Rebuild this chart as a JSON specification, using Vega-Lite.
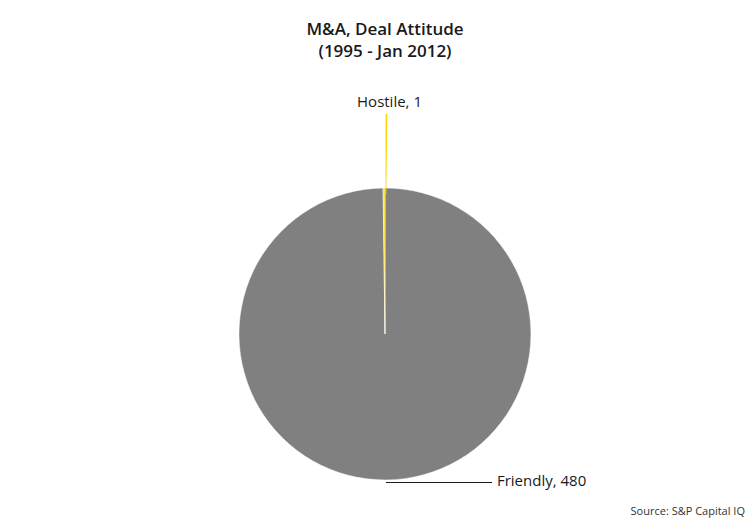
{
  "$schema": "https://vega.github.io/schema/vega-lite/v6.json",
  "autosize": "none",
  "width": 730,
  "height": 388,
  "padding": {"left": 20, "right": 0, "top": 140, "bottom": 3},
  "background": "#ffffff",
  "config": {"view": {"stroke": null}, "font": "Open Sans"},
  "title": {
    "text": ["M&A, Deal Attitude", "(1995 - Jan 2012)"],
    "anchor": "middle",
    "frame": "group",
    "font": "Open Sans",
    "fontSize": 17,
    "fontWeight": 600,
    "lineHeight": 22,
    "color": "#1a1a1a",
    "offset": 34
  },
  "data": {
    "values": [
      {"attitude": "Friendly", "deals": 480, "ord": 1},
      {"attitude": "Hostile", "deals": 1, "ord": 2}
    ]
  },
  "encoding": {
    "theta": {"field": "deals", "type": "quantitative", "stack": true},
    "order": {"field": "ord", "type": "quantitative"}
  },
  "layer": [
    {
      "mark": {"type": "arc", "outerRadius": 146, "stroke": "#ffffff", "strokeWidth": 0.5},
      "encoding": {
        "color": {
          "field": "attitude",
          "type": "nominal",
          "scale": {"domain": ["Friendly", "Hostile"], "range": ["#808080", "#FFD700"]},
          "legend": null
        }
      }
    },
    {
      "transform": [{"filter": "datum.attitude === 'Hostile'"}],
      "mark": {"type": "arc", "innerRadius": 140, "outerRadius": 220, "color": "#FFD700", "padAngle": 0.004}
    },
    {
      "transform": [
        {"filter": "datum.attitude === 'Hostile'"},
        {"calculate": "datum.attitude + ', ' + datum.deals", "as": "label"}
      ],
      "mark": {"type": "text", "radius": 232, "fontSize": 15, "align": "center", "baseline": "middle", "color": "#1a1a1a", "dx": 3},
      "encoding": {"text": {"field": "label"}}
    },
    {
      "transform": [
        {"filter": "datum.attitude === 'Friendly'"},
        {"calculate": "datum.attitude + ', ' + datum.deals", "as": "label"}
      ],
      "mark": {"type": "text", "radius": 147, "fontSize": 15, "align": "left", "baseline": "middle", "color": "#1a1a1a", "dx": 111},
      "encoding": {"text": {"field": "label"}}
    },
    {
      "data": {"values": [{}]},
      "mark": {"type": "rule", "color": "#1a1a1a", "strokeWidth": 1},
      "encoding": {
        "x": {"value": 366},
        "x2": {"value": 472},
        "y": {"value": 342.5},
        "theta": null,
        "order": null
      }
    },
    {
      "data": {"values": [{"src": "Source: S&P Capital IQ"}]},
      "mark": {"type": "text", "align": "right", "baseline": "middle", "fontSize": 11, "color": "#333333"},
      "encoding": {
        "text": {"field": "src"},
        "x": {"value": 725},
        "y": {"value": 372},
        "theta": null,
        "order": null
      }
    }
  ]
}
